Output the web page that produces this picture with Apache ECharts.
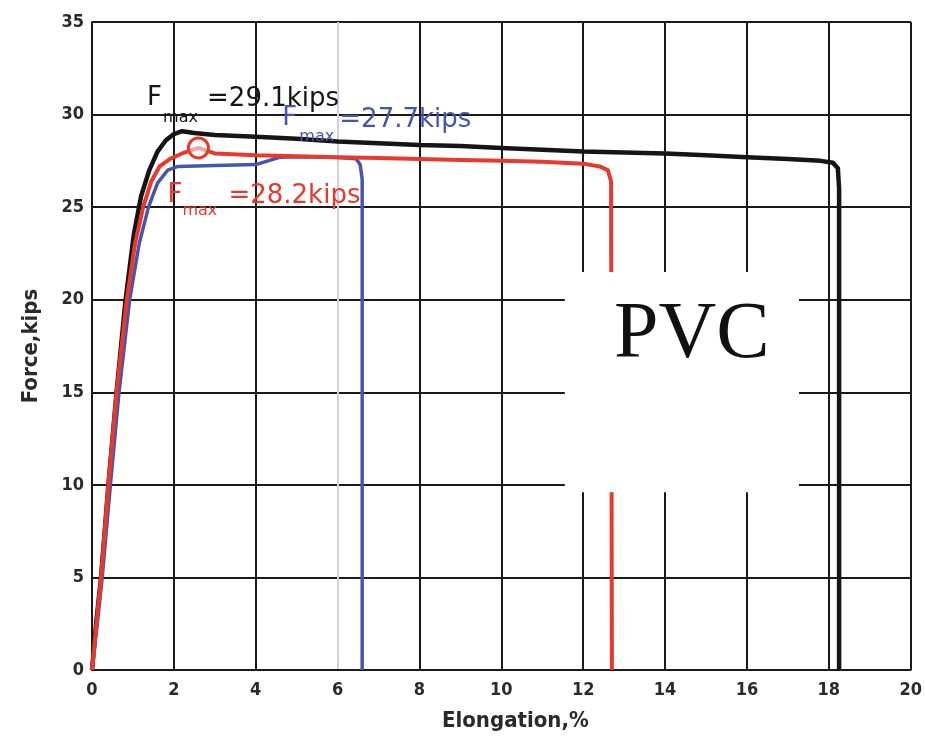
<!DOCTYPE html>
<html>
<head>
<meta charset="utf-8">
<script src="https://cdn.jsdelivr.net/npm/echarts@6/dist/echarts.min.js"></script>
<style>
  html, body { margin: 0; padding: 0; background: #fff; }
  #chart { width: 925px; height: 747px; }
</style>
</head>
<body>
<div id="chart"></div>
<script>
// Tensile test curves for PVC specimens: force (kips) vs elongation (%)
const xTickLabels = ['0', '2', '4', '6', '8', '10', '12', '14', '16', '18', '20'];
const yTickLabels = ['0', '5', '10', '15', '20', '25', '30', '35'];

const blackX = [0, 0.1, 0.22, 0.4, 0.6, 0.82, 1.02, 1.2, 1.4, 1.6, 1.8, 2.0, 2.2, 2.5, 3.0, 4.0, 5.0, 6.0, 7.0, 8.0, 9.0, 10.0, 11.0, 12.0, 13.0, 14.0, 15.0, 16.0, 17.0, 17.8, 18.1, 18.22, 18.25, 18.25];
const blackY = [0, 2.5, 5, 10, 15, 20, 23.5, 25.6, 27.0, 28.0, 28.6, 28.95, 29.1, 29.0, 28.9, 28.8, 28.7, 28.55, 28.45, 28.35, 28.3, 28.2, 28.1, 28.0, 27.95, 27.9, 27.8, 27.7, 27.6, 27.5, 27.4, 27.1, 26.0, 0];

const redX = [0, 0.1, 0.22, 0.4, 0.6, 0.85, 1.05, 1.25, 1.45, 1.65, 1.9, 2.2, 2.6, 3.0, 4.0, 5.0, 6.0, 7.0, 8.0, 9.0, 10.0, 11.0, 12.0, 12.4, 12.6, 12.68, 12.7];
const redY = [0, 2.3, 5, 10, 15, 20, 23, 25, 26.4, 27.2, 27.6, 27.9, 28.2, 27.9, 27.8, 27.75, 27.7, 27.65, 27.6, 27.55, 27.5, 27.45, 27.35, 27.2, 27.0, 26.4, 0];

const blueX = [0, 0.12, 0.25, 0.45, 0.66, 0.92, 1.15, 1.38, 1.6, 1.85, 2.1, 3.0, 4.0, 4.3, 4.6, 5.0, 6.0, 6.45, 6.55, 6.6, 6.6];
const blueY = [0, 2.3, 5, 10, 15, 20, 23, 25, 26.3, 27.0, 27.2, 27.25, 27.3, 27.5, 27.7, 27.72, 27.68, 27.62, 27.3, 26.5, 0];

// Peak forces quoted in the annotations
const peakNames = ['black', 'blue', 'red'];
const peakX = [2.2, 4.6, 2.6];
const peakY = [29.1, 27.7, 28.2];

const COLORS = { black: '#151515', red: '#e8392c', blue: '#4656b0' };
const NAME_FONT = "'DejaVu Sans Condensed', 'DejaVu Sans', sans-serif";
const TICK_FONT = "'DejaVu Sans Condensed', 'DejaVu Sans', sans-serif";

const pairs = (xs, ys) => xs.map((x, i) => [x, ys[i]]);

// pixel offsets of the "F", "max" and "=...kips" pieces from each peak
const labelLayout = {
  black: { F: [-35, -33], sub: [-19, -13], rest: [25, -32] },
  blue:  { F: [2, -39],  sub: [19, -20],  rest: [59, -37] },
  red:   { F: [-31, 47], sub: [-16, 63],  rest: [30, 48] }
};

// white panel carrying the material name (data coordinates)
const panel = { x0: 11.55, y0: 21.5, x1: 17.27, y1: 9.6 };

const chart = echarts.init(document.getElementById('chart'), null, { renderer: 'canvas' });

const gridColors = xTickLabels.map(t => (t === '6' ? '#cfcfe3' : '#1a1a1a'));

const option = {
  animation: false,
  backgroundColor: '#ffffff',
  grid: { left: 92, right: 13, top: 22, bottom: 77 },
  xAxis: {
    type: 'value', min: 0, max: 20, interval: 2,
    name: 'Elongation,%', nameLocation: 'middle', nameGap: 40,
    nameTextStyle: { fontFamily: NAME_FONT, fontWeight: 'bold', fontSize: 22, color: '#2a2a2a', padding: [0, 0, 0, 28] },
    axisLine: { show: true, lineStyle: { color: '#1a1a1a', width: 2 } },
    axisTick: { show: false },
    axisLabel: {
      margin: 11, fontFamily: TICK_FONT, fontWeight: 'bold', fontSize: 18, color: '#2a2a2a',
      formatter: (v) => xTickLabels[Math.round(v / 2)]
    },
    splitLine: { show: true, lineStyle: { color: gridColors, width: 2 } }
  },
  yAxis: {
    type: 'value', min: 0, max: 35, interval: 5,
    name: 'Force,kips', nameLocation: 'middle', nameGap: 50, nameRotate: 90,
    nameTextStyle: { fontFamily: NAME_FONT, fontWeight: 'bold', fontSize: 22, color: '#2a2a2a' },
    axisLine: { show: true, lineStyle: { color: '#1a1a1a', width: 2 } },
    axisTick: { show: false },
    axisLabel: {
      margin: 8, fontFamily: TICK_FONT, fontWeight: 'bold', fontSize: 18, color: '#2a2a2a',
      formatter: (v) => yTickLabels[Math.round(v / 5)]
    },
    splitLine: { show: true, lineStyle: { color: '#1a1a1a', width: 2 } }
  },
  series: [
    {
      name: 'black', type: 'line', z: 2, showSymbol: false, silent: true,
      data: pairs(blackX, blackY),
      lineStyle: { color: COLORS.black, width: 4.5, join: 'round' }
    },
    {
      name: 'blue', type: 'line', z: 3, showSymbol: false, silent: true,
      data: pairs(blueX, blueY),
      lineStyle: { color: COLORS.blue, width: 3.5, join: 'round' }
    },
    {
      name: 'red', type: 'line', z: 4, showSymbol: false, silent: true,
      data: pairs(redX, redY),
      lineStyle: { color: COLORS.red, width: 4, join: 'round' },
      markPoint: {
        silent: true, animation: false,
        symbol: 'circle', symbolSize: 20,
        itemStyle: { color: 'rgba(255,255,255,0.55)', borderColor: COLORS.red, borderWidth: 3 },
        label: { show: false },
        data: [{ coord: [peakX[2], peakY[2]] }]
      }
    },
    {
      name: 'panel', type: 'custom', z: 10, silent: true,
      data: [[panel.x0, panel.y0, panel.x1, panel.y1]],
      renderItem: (params, api) => {
        const p0 = api.coord([api.value(0), api.value(1)]);
        const p1 = api.coord([api.value(2), api.value(3)]);
        return {
          type: 'group',
          children: [
            { type: 'rect', shape: { x: p0[0], y: p0[1], width: p1[0] - p0[0], height: p1[1] - p0[1] }, style: { fill: '#ffffff' } },
            { type: 'text', x: p0[0] + 127, y: p0[1] + 64,
              style: { text: 'PVC', fill: '#111111', font: "80px 'Liberation Serif', 'Times New Roman', serif", align: 'center', verticalAlign: 'middle' } }
          ]
        };
      }
    }
  ]
};

chart.setOption(option);

// F_max annotations anchored at each peak
const graphics = [];
peakNames.forEach((name, i) => {
  const [px, py] = chart.convertToPixel({ gridIndex: 0 }, [peakX[i], peakY[i]]);
  const lay = labelLayout[name];
  const color = COLORS[name];
  const mainFont = "26px 'DejaVu Sans', sans-serif";
  graphics.push(
    { type: 'text', z: 100, x: px + lay.F[0], y: py + lay.F[1], style: { text: 'F', fill: color, font: mainFont, verticalAlign: 'middle' } },
    { type: 'text', z: 100, x: px + lay.sub[0], y: py + lay.sub[1], style: { text: 'max', fill: color, font: "16px 'DejaVu Sans', sans-serif", verticalAlign: 'middle' } },
    { type: 'text', z: 100, x: px + lay.rest[0], y: py + lay.rest[1], style: { text: '=' + peakY[i].toFixed(1) + 'kips', fill: color, font: mainFont, verticalAlign: 'middle' } }
  );
});
chart.setOption({ graphic: graphics });
</script>
</body>
</html>
